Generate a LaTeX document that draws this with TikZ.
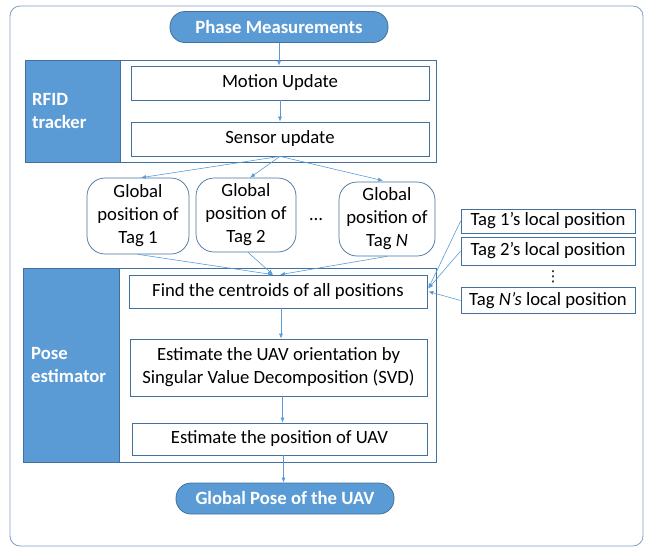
\documentclass[tikz,border=0pt]{standalone}
\usepackage{fontspec}
\setmainfont{Carlito}
\newfontfamily\symfont{DejaVu Sans}
\usetikzlibrary{arrows.meta,calc}
\definecolor{mblue}{HTML}{5B9BD5}
\definecolor{dblue}{HTML}{41719C}
\definecolor{fblue}{HTML}{7F9DC6}
\tikzset{
  txt/.style={font=\fontsize{18.7}{23}\selectfont},
  pill/.style={draw=dblue, fill=mblue, line width=0.8pt, rounded corners=15pt, text=white, font=\fontsize{18.7}{23}\selectfont\bfseries, inner sep=0pt},
  grp/.style={draw=dblue, line width=0.8pt, inner sep=0pt},
  panel/.style={fill=mblue, draw=dblue, line width=0.8pt, inner sep=0pt},
  box/.style={draw=dblue, fill=white, line width=0.7pt, inner sep=0pt, txt, align=center},
  gbox/.style={box, rounded corners=18pt},
  lbl/.style={text=white, font=\fontsize{18.7}{23}\selectfont\bfseries, align=left, anchor=west, inner sep=0pt},
  arr/.style={draw=mblue, line width=0.6pt, -{Latex[length=5pt,width=4pt]}},
}
\begin{document}
\begin{tikzpicture}[x=1pt,y=-1pt]
\useasboundingbox (0,0) rectangle (646,547);
% outer frame
\node[draw=fblue, line width=0.8pt, rounded corners=10pt, minimum width=633pt, minimum height=540pt, inner sep=0pt] (frame) at (326.5,276) {};
% top pill
\node[pill, minimum width=218pt, minimum height=31pt] (phase) at (279,27) {Phase Measurements};
% RFID group
\node[grp, minimum width=411pt, minimum height=102pt] (rfidgrp) at (230.5,111) {};
\node[panel, minimum width=95pt, minimum height=102pt] (rfidpanel) at (72.5,111) {};
\node[lbl] (rfidlbl) at (32,111.5) {RFID\\tracker};
\node[box, minimum width=298pt, minimum height=34pt] (motion) at (280,83) {Motion Update};
\node[box, minimum width=298pt, minimum height=34pt] (sensor) at (280,139) {Sensor update};
% global positions
\node[gbox, minimum width=102pt, minimum height=76pt] (g1) at (138,216) {Global\\position of\\Tag 1};
\node[gbox, minimum width=100pt, minimum height=74pt] (g2) at (246,215) {Global\\position of\\Tag 2};
\node[gbox, minimum width=96pt, minimum height=74pt] (gN) at (387,219) {Global\\position of\\Tag \textit{N}};
\node[txt, inner sep=0pt] (gdots) at (316,220) {…};
% local positions
\node[box, minimum width=174pt, minimum height=24pt] (t1) at (548,221) {Tag 1’s local position};
\node[box, minimum width=174pt, minimum height=28pt] (t2) at (548,251) {Tag 2’s local position};
\node[inner sep=0pt, font=\symfont\fontsize{15}{15}\selectfont] (tdots) at (553,277) {⋮};
\node[box, minimum width=174pt, minimum height=26pt] (tN) at (548,300.5) {Tag \textit{N’s} local position};
% Pose group
\node[grp, minimum width=413pt, minimum height=194pt] (posegrp) at (229.5,365) {};
\node[panel, minimum width=96pt, minimum height=194pt] (posepanel) at (71,365) {};
\node[lbl] (poselbl) at (31,365) {Pose\\estimator};
\node[box, minimum width=298pt, minimum height=33pt] (find) at (278,291.5) {Find the centroids of all positions};
\node[box, minimum width=297pt, minimum height=57pt] (svd) at (278.5,367.5) {Estimate the UAV orientation by\\Singular Value Decomposition (SVD)};
\node[box, minimum width=295pt, minimum height=32pt] (pos) at (279.5,439) {Estimate the position of UAV};
% bottom pill
\node[pill, minimum width=218pt, minimum height=31pt] (gpose) at (285,498.5) {Global Pose of the UAV};
% arrows
\draw[arr] (phase.south) -- (phase.south |- motion.north);
\draw[arr] (motion.south) -- (motion.south |- sensor.north);
\draw[arr] (sensor.south) -- ($(g1.north)+(3,0)$);
\draw[arr] (sensor.south) -- ($(g2.north)+(4,0)$);
\draw[arr] (sensor.south) -- ($(gN.north)+(-4,-1)$);
\draw[arr] (g1.south) -- ($(find.north)+(-5,0)$);
\draw[arr] ($(g2.south)+(2,0)$) -- ($(find.north)+(-5,0)$);
\draw[arr] (gN.south) -- ($(find.north)+(2,0)$);
\draw[arr] (t1.west) -- ($(find.east)+(1,-3)$);
\draw[arr] (t2.west) -- ($(find.east)+(1,-3)$);
\draw[arr] (tN.west) -- ($(find.east)+(1,0)$);
\draw[arr] ($(find.south)+(3,0)$) -- ($(find.south |- svd.north)+(3,0)$);
\draw[arr] ($(svd.south)+(4,0)$) -- ($(svd.south |- pos.north)+(4,0)$);
\draw[arr] ($(pos.south)+(4,0)$) -- ($(pos.south |- gpose.north)+(4,0)$);
\end{tikzpicture}
\end{document}
